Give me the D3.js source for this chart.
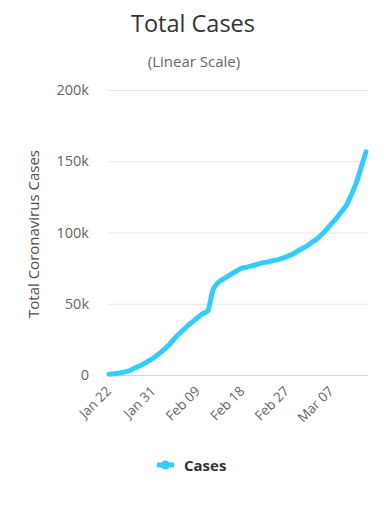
<!DOCTYPE html>
<html><head><meta charset="utf-8">
<script src="https://cdn.jsdelivr.net/npm/d3@7"></script>
<style>body{margin:0;background:#fff}svg{display:block;font-family:"Open Sans",sans-serif}</style>
</head><body>
<script>
const dates = ["Jan 22","Jan 23","Jan 24","Jan 25","Jan 26","Jan 27","Jan 28","Jan 29","Jan 30","Jan 31",
"Feb 01","Feb 02","Feb 03","Feb 04","Feb 05","Feb 06","Feb 07","Feb 08","Feb 09","Feb 10","Feb 11","Feb 12","Feb 13","Feb 14","Feb 15","Feb 16","Feb 17","Feb 18","Feb 19","Feb 20","Feb 21","Feb 22","Feb 23","Feb 24","Feb 25","Feb 26","Feb 27","Feb 28","Feb 29",
"Mar 01","Mar 02","Mar 03","Mar 04","Mar 05","Mar 06","Mar 07","Mar 08","Mar 09","Mar 10","Mar 11","Mar 12","Mar 13","Mar 14"];
const cases = [580,845,1317,2015,2800,4581,6058,7813,9823,11950,
14553,17391,20630,24545,28266,31439,34876,37552,40553,43099,45134,59287,64438,67100,69197,71329,73332,75184,75700,76677,77673,78651,79205,80087,80828,81820,83112,84615,86604,
88585,90443,93016,95314,98425,102050,106099,109991,114381,118948,126214,134576,145483,156653];
const xTickLabels = ["Jan 22","Jan 31","Feb 09","Feb 18","Feb 27","Mar 07"];
const yTicks = [0,50000,100000,150000,200000];
const yTickLabels = ["0","50k","100k","150k","200k"];
const seriesName = "Cases";

(function(){
const W=386,H=517;
const svg=d3.select("body").append("svg").attr("width",W).attr("height",H);
const pl=108,pr=368,pt=90,pb=375;
const x=d3.scalePoint().domain(dates).range([pl+1,pr-2]);
const y=d3.scaleLinear().domain([0,200000]).range([pb,pt]);

svg.append("text").attr("x",193).attr("y",32).attr("text-anchor","middle")
 .attr("font-size",23.5).attr("fill","#333").text("Total Cases");
svg.append("text").attr("x",194).attr("y",67).attr("text-anchor","middle")
 .attr("font-size",15).attr("fill","#666").text("(Linear Scale)");

svg.append("g").selectAll("line").data(yTicks.slice(1)).join("line")
 .attr("x1",pl).attr("x2",pr).attr("y1",d=>y(d)+0.5).attr("y2",d=>y(d)+0.5)
 .attr("stroke","#e6e6e6").attr("stroke-width",1);
svg.append("g").selectAll("text").data(yTicks).join("text")
 .attr("x",89).attr("y",d=>y(d)+5).attr("text-anchor","end")
 .attr("font-size",14.5).attr("fill","#666").text((d,i)=>yTickLabels[i]);
svg.append("line").attr("x1",pl).attr("x2",pr).attr("y1",pb+0.5).attr("y2",pb+0.5)
 .attr("stroke","#ccd6eb").attr("stroke-width",1);

svg.append("text").attr("transform","translate(39,234) rotate(-90)").attr("text-anchor","middle")
 .attr("font-size",15).attr("fill","#4d4d4d").text("Total Coronavirus Cases");

svg.append("g").selectAll("text").data(xTickLabels).join("text")
 .attr("transform",d=>`translate(${x(d)+3},${pb+17}) rotate(-45)`)
 .attr("text-anchor","end").attr("font-size",13.5).attr("fill","#666").text(d=>d);

const line=d3.line().x((d,i)=>x(dates[i])).y(d=>y(d)).curve(d3.curveMonotoneX);
svg.append("path").datum(cases).attr("d",line).attr("fill","none")
 .attr("stroke","#33ccff").attr("stroke-width",5).attr("stroke-linecap","round").attr("stroke-linejoin","round");

const lg=svg.append("g").attr("transform","translate(157,465)");
lg.append("line").attr("x1",0).attr("x2",17).attr("y1",0).attr("y2",0).attr("stroke","#33ccff").attr("stroke-width",5);
lg.append("circle").attr("cx",8.5).attr("cy",0).attr("r",4.5).attr("fill","#33ccff");
lg.append("text").attr("x",27).attr("y",5.5).attr("font-size",15).attr("font-weight","bold").attr("fill","#333").text(seriesName);
})();
</script>
</body></html>
